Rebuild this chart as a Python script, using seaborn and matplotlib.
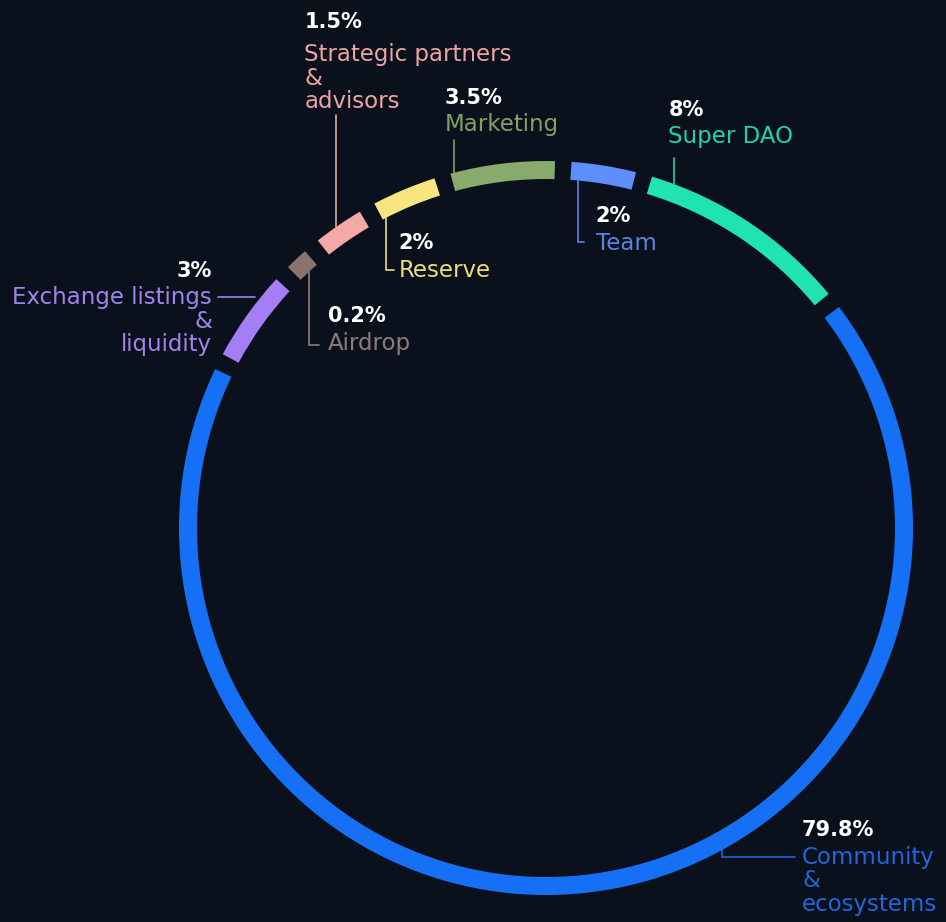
import numpy as np
import seaborn as sns
import matplotlib
matplotlib.use("Agg")
import matplotlib.pyplot as plt
from matplotlib.patches import Wedge

# -------------------------------
# Data (clockwise from the top)
# -------------------------------
categories = ["Team", "Super DAO", "Community\n&\necosystems",
              "Exchange listings\n&\nliquidity", "Airdrop",
              "Strategic partners\n&\nadvisors", "Reserve", "Marketing"]
shares = [2, 8, 79.8, 3, 0.2, 1.5, 2, 3.5]
pct_labels = ["2%", "8%", "79.8%", "3%", "0.2%", "1.5%", "2%", "3.5%"]

ring_colors = ["#5f8ffb", "#1fe3b1", "#1570f5", "#a47ef4",
               "#8b726d", "#f4a9a7", "#f7e57f", "#88aa6c"]
text_colors = ["#5a82e0", "#1ed4a6", "#1f66da", "#a184ee",
               "#8e7b78", "#eba5a4", "#efdc7a", "#7fa366"]

BG = "#0b111c"

sns.set_theme(style="dark", rc={"axes.facecolor": BG, "figure.facecolor": BG})
plt.rcParams["font.family"] = ["DejaVu Sans"]

# -------------------------------
# Ring geometry (pixel coords)
# -------------------------------
cx, cy = 546, 528
R_OUT, WIDTH = 367, 18
R_IN = R_OUT - WIDTH
GAP = 2.6          # degrees between arcs
START = 4          # first arc starts this many degrees right of top

w = np.maximum(np.array(shares) ** 0.86, 0.65)
spans = w / w.sum() * (360 - GAP * len(w))
starts = START + np.concatenate([[0], np.cumsum(spans + GAP)[:-1]])

fig = plt.figure(figsize=(9.46, 9.22), dpi=100)
ax = fig.add_axes([0, 0, 1, 1])
ax.set_xlim(0, 946)
ax.set_ylim(922, 0)
ax.axis("off")

for s, sp, col in zip(starts, spans, ring_colors):
    ax.add_patch(Wedge((cx, cy), R_OUT, s - 90, s + sp - 90, width=WIDTH,
                       facecolor=col, edgecolor="none"))


def ring_point(i, frac, r):
    a = np.radians(starts[i] + frac * spans[i])
    return cx + r * np.sin(a), cy - r * np.cos(a)


def label(i, x, y_pct, ha="left", dy=27):
    ax.text(x, y_pct, pct_labels[i], color="white", fontsize=15,
            fontweight="bold", ha=ha, va="center")
    for k, line in enumerate(categories[i].split("\n")):
        ax.text(x, y_pct + dy + k * 23.5, line, color=text_colors[i],
                fontsize=16.5, ha=ha, va="center")


LW = 1.2

# Team: line down from inner edge, then right
x, y = ring_point(0, 0.12, R_IN)
ax.plot([x, x, x + 6], [y, 242, 242], color=text_colors[0], lw=LW)
label(0, x + 18, 216)

# Super DAO: line up from outer edge
x, y = ring_point(1, 0.11, R_OUT)
ax.plot([x, x], [y, 158], color=text_colors[1], lw=LW)
label(1, x - 6, 110)

# Community: line down, then right
x, y = ring_point(2, 0.405, R_OUT)
ax.plot([x, x, 795], [y, 857, 857], color=text_colors[2], lw=LW)
label(2, 802, 830)

# Exchange listings: horizontal line to the left
x, y = ring_point(3, 0.75, R_OUT)
ax.plot([x - 6, 218], [y, y], color=text_colors[3], lw=LW)
label(3, 212, y - 26, ha="right")

# Airdrop: line down from inner edge, then right
x, y = ring_point(4, 0.5, R_IN)
ax.plot([x, x, x + 10], [y, 345, 345], color=text_colors[4], lw=LW)
label(4, x + 19, 316)

# Strategic partners: line up from outer edge
x, y = ring_point(5, 0.45, R_OUT)
ax.plot([x, x], [y, 115], color=text_colors[5], lw=LW)
label(5, x - 32, 22, dy=33)

# Reserve: line down from inner edge, then right
x, y = ring_point(6, 0.05, R_IN)
ax.plot([x, x, x + 8], [y, 270, 270], color=text_colors[6], lw=LW)
label(6, x + 13, 243)

# Marketing: line up from outer edge
x, y = ring_point(7, 0.03, R_OUT)
ax.plot([x, x], [y, 140], color=text_colors[7], lw=LW)
label(7, x - 9, 98)

fig.savefig("out.png", dpi=100, facecolor=BG)
